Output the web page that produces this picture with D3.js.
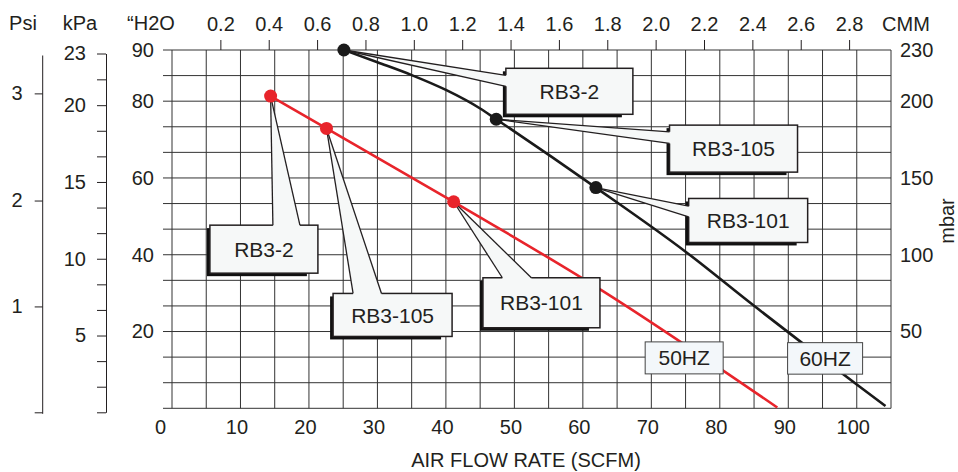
<!DOCTYPE html>
<html>
<head>
<meta charset="utf-8">
<script src="https://cdn.jsdelivr.net/npm/d3@7"></script>
<style>
  body { margin: 0; background: #fff; }
  svg { display: block; }
  text { font-family: "Liberation Sans", Arial, sans-serif; fill: #231f20; }
</style>
</head>
<body>
<svg id="chart" width="958" height="472"></svg>
<script>
// Blower performance curves: pressure vs air flow, 50 Hz / 60 Hz
// ------------------------------------------------------------------

// Data -------------------------------------------------------------
const flowTicks  = [0, 10, 20, 30, 40, 50, 60, 70, 80, 90, 100];          // SCFM
const cmmTicks   = [0.2, 0.4, 0.6, 0.8, 1.0, 1.2, 1.4, 1.6, 1.8, 2.0, 2.2, 2.4, 2.6, 2.8];
const h2oLabels  = [20, 40, 60, 80, 90];
const mbarLabels = [50, 100, 150, 200, 230];
const kpaLabels  = [5, 10, 15, 20, 23];
const psiLabels  = [1, 2, 3];

// 60 Hz curve ("H2O vs SCFM)
const hz60Flow  = [25.1, 30, 35, 40, 45, 47.35, 61.9, 75, 85, 100, 104.2];
const hz60Press = [90, 87.6, 85.1, 82.2, 78.1, 75.3, 57.5, 40.8, 26.7, 6.2, 0.6];
// 50 Hz curve
const hz50Flow  = [14.4, 22.56, 41.13, 62.7, 88.4];
const hz50Press = [81.0, 72.9, 53.8, 30.8, 0.2];

// Model operating points
const models     = ["RB3-2", "RB3-105", "RB3-101"];
const hz60Points = [[25.1, 90], [47.35, 75.3], [61.9, 57.5]];
const hz50Points = [[14.4, 81.0], [22.56, 72.9], [41.13, 53.8]];

const SCFM_TO_CMM = 0.028317;
const KPA_PER_PSI = 6.895;

// Layout -----------------------------------------------------------
const plot = { left: 172, right: 891, top: 50, bottom: 408.3 };
const step = (plot.bottom - plot.top) / 14;          // 14 grid rows
const yRange = [plot.bottom, plot.bottom - 12 * step, plot.top];
const kRange = yRange.map((v, i) => v + (i === 2 ? 3.5 : 4));

const RED = "#e8242b", BLACK = "#1a1a1a", INK = "#231f20";

const svg = d3.select("#chart");

// Scales -----------------------------------------------------------
const x    = d3.scaleLinear().domain([0, 105]).range([plot.left, plot.right]);
const cmm  = d3.scaleLinear().domain([0, 105 * SCFM_TO_CMM]).range([plot.left, plot.right]);
const y    = d3.scaleLinear().domain([0, 80, 90]).range(yRange);
const mbar = d3.scaleLinear().domain([0, 200, 230]).range(yRange);
const kpa  = d3.scaleLinear().domain([0, 20, 23]).range(kRange);
const psi  = d3.scaleLinear().domain([0, 20, 23].map(k => k / KPA_PER_PSI)).range(kRange);

// Grid -------------------------------------------------------------
const gridG = svg.append("g").attr("stroke", "#333").attr("stroke-width", 1);
gridG.selectAll("line.v").data(d3.range(0, 105.01, 5)).join("line")
    .attr("x1", d => x(d)).attr("x2", d => x(d))
    .attr("y1", plot.top).attr("y2", plot.bottom);
const hLines = d3.range(0, 80.001, 20 / 3).concat([85, 90]);
gridG.selectAll("line.h").data(hLines).join("line")
    .attr("x1", plot.left - 9).attr("x2", plot.right)
    .attr("y1", d => y(d)).attr("y2", d => y(d));

// Axes -------------------------------------------------------------
function styleAxis(g) {
  g.attr("font-size", 20).attr("font-family", null);
  g.selectAll("text").attr("fill", INK);
  g.selectAll("line").attr("stroke", INK);
  g.select(".domain").attr("stroke", INK);
}
const near = (arr, d) => arr.some(v => Math.abs(v - d) < 1e-6);

// bottom SCFM
svg.append("g")
    .attr("transform", `translate(0,${plot.bottom})`)
    .call(d3.axisBottom(x).tickValues(flowTicks).tickSize(0).tickPadding(12))
    .call(styleAxis)
    .call(g => g.select(".domain").remove())
    .selectAll("text").attr("dx", d => d === 0 ? -12 : -4);

// top CMM
svg.append("g")
    .attr("transform", `translate(0,${plot.top})`)
    .call(d3.axisTop(cmm).tickValues(cmmTicks).tickSize(10).tickPadding(9).tickFormat(d3.format(".1f")))
    .call(styleAxis)
    .call(g => g.select(".domain").remove());

// left "H2O
svg.append("g")
    .attr("transform", `translate(${plot.left},0)`)
    .call(d3.axisLeft(y).tickValues(h2oLabels).tickSize(0).tickPadding(18))
    .call(styleAxis)
    .call(g => g.select(".domain").remove());

// kPa
svg.append("g")
    .attr("transform", "translate(106,0)")
    .call(d3.axisLeft(kpa)
      .tickValues(d3.range(0, 20.001, 5 / 3).concat([21.5, 23]))
      .tickSize(9).tickSizeOuter(0).tickPadding(11)
      .tickFormat(d => near(kpaLabels, d) ? Math.round(d) : ""))
    .call(styleAxis);

// Psi
svg.append("g")
    .attr("transform", "translate(42.7,0)")
    .call(d3.axisLeft(psi).tickValues([0].concat(psiLabels))
      .tickSize(8).tickSizeOuter(0).tickPadding(12)
      .tickFormat(d => d === 0 ? "" : d))
    .call(styleAxis)
    .call(g => g.select(".domain").attr("d", `M0,${kRange[0] + 1.5}V${kRange[2] + 2}`));

// right mbar
svg.append("g")
    .attr("transform", `translate(${plot.right},0)`)
    .call(d3.axisRight(mbar).tickValues(mbarLabels).tickSize(0).tickPadding(9))
    .call(styleAxis)
    .call(g => g.select(".domain").remove());

// Unit headers / titles
const headers = [["Psi", 23], ["kPa", 80], ["\u201CH2O", 151]];
svg.selectAll("text.hdr").data(headers).join("text")
    .attr("class", "hdr")
    .attr("x", d => d[1]).attr("y", 30)
    .attr("text-anchor", "middle").attr("font-size", 20)
    .text(d => d[0]);
svg.append("text").attr("x", 906).attr("y", 31)
    .attr("text-anchor", "middle").attr("font-size", 20).text("CMM");
svg.append("text").attr("x", 526).attr("y", 467)
    .attr("text-anchor", "middle").attr("font-size", 20).text("AIR FLOW RATE (SCFM)");
svg.append("text")
    .attr("transform", "translate(947,221) rotate(-90)")
    .attr("text-anchor", "middle").attr("dy", "0.35em").attr("font-size", 20).text("mbar");

// Curves -----------------------------------------------------------
const line = d3.line().x(d => x(d[0])).y(d => y(d[1])).curve(d3.curveMonotoneX);
const hz60 = hz60Flow.map((f, i) => [f, hz60Press[i]]);
const hz50 = hz50Flow.map((f, i) => [f, hz50Press[i]]);

svg.append("path").datum(hz50).attr("d", line)
    .attr("fill", "none").attr("stroke", RED).attr("stroke-width", 2.6);
svg.append("path").datum(hz60).attr("d", line)
    .attr("fill", "none").attr("stroke", BLACK).attr("stroke-width", 2.6);

// Callouts ---------------------------------------------------------
// box offset from its point, box size, wedge side + attach offsets
const hz60Callouts = [
  { dx: 162,   dy: 18.3,  w: 127, h: 46, side: "left", a: [7, 18] },
  { dx: 173.3, dy: 5.9,   w: 128, h: 47, side: "left", a: [6.7, 18.3] },
  { dx: 92.8,  dy: 10.9,  w: 119, h: 44, side: "left", a: [7.7, 18.4] }
];
const hz50Callouts = [
  { dx: -60.7, dy: 129.1, w: 108, h: 48, side: "top", a: [63, 90] },
  { dx: 6.6,   dy: 165,   w: 119, h: 43, side: "top", a: [20, 48.4] },
  { dx: 29.3,  dy: 76,    w: 117, h: 50, side: "top", a: [19.4, 48.4] }
];

const BOX_FILL = "#f6f8f8";
const calloutG = svg.append("g");

function callout(pt, lay, label) {
  const px = x(pt[0]), py = y(pt[1]);
  const bx = px + lay.dx, by = py + lay.dy;
  const g = calloutG.append("g");
  g.append("rect").attr("x", bx - 3).attr("y", by + 3)
      .attr("width", lay.w - 8).attr("height", lay.h).attr("fill", "#111");
  g.append("rect").attr("x", bx).attr("y", by)
      .attr("width", lay.w).attr("height", lay.h)
      .attr("fill", BOX_FILL).attr("stroke", INK).attr("stroke-width", 1.5);
  let p1, p2, q1, q2;
  if (lay.side === "left") {
    p1 = [bx, by + lay.a[0]]; p2 = [bx, by + lay.a[1]];
    q1 = [bx + 3, p1[1]];     q2 = [bx + 3, p2[1]];
  } else {
    p1 = [bx + lay.a[0], by]; p2 = [bx + lay.a[1], by];
    q1 = [p1[0], by + 3];     q2 = [p2[0], by + 3];
  }
  g.append("polygon").attr("points", [[px, py], p1, q1, q2, p2].map(p => p.join(",")).join(" "))
      .attr("fill", BOX_FILL);
  g.selectAll("line").data([p1, p2]).join("line")
      .attr("x1", px).attr("y1", py).attr("x2", d => d[0]).attr("y2", d => d[1])
      .attr("stroke", INK).attr("stroke-width", 1.3);
  g.append("text").attr("x", bx + lay.w / 2).attr("y", by + lay.h / 2)
      .attr("dy", "0.36em").attr("text-anchor", "middle").attr("font-size", 21)
      .text(label);
}
models.forEach((m, i) => callout(hz60Points[i], hz60Callouts[i], m));
models.forEach((m, i) => callout(hz50Points[i], hz50Callouts[i], m));

// Frequency labels (positioned in chart units: left/top corner)
const freqLabels = [
  { text: "50HZ", at: [69.1, 17.3], w: 78, h: 32 },
  { text: "60HZ", at: [89.9, 17.1], w: 75, h: 31.5 }
];
const freqG = svg.selectAll("g.freq").data(freqLabels).join("g").attr("class", "freq")
    .attr("transform", d => `translate(${x(d.at[0])},${y(d.at[1])})`);
freqG.append("rect").attr("width", d => d.w).attr("height", d => d.h)
    .attr("fill", "#f3f7fa").attr("stroke", "#444").attr("stroke-width", 1);
freqG.append("text").attr("x", d => d.w / 2).attr("y", d => d.h / 2)
    .attr("dy", "0.36em").attr("text-anchor", "middle").attr("font-size", 21)
    .text(d => d.text);

// Points -----------------------------------------------------------
svg.append("g").selectAll("circle").data(hz50Points).join("circle")
    .attr("cx", d => x(d[0])).attr("cy", d => y(d[1])).attr("r", 6.5).attr("fill", RED);
svg.append("g").selectAll("circle").data(hz60Points).join("circle")
    .attr("cx", d => x(d[0])).attr("cy", d => y(d[1])).attr("r", 6.5).attr("fill", BLACK);
</script>
</body>
</html>
